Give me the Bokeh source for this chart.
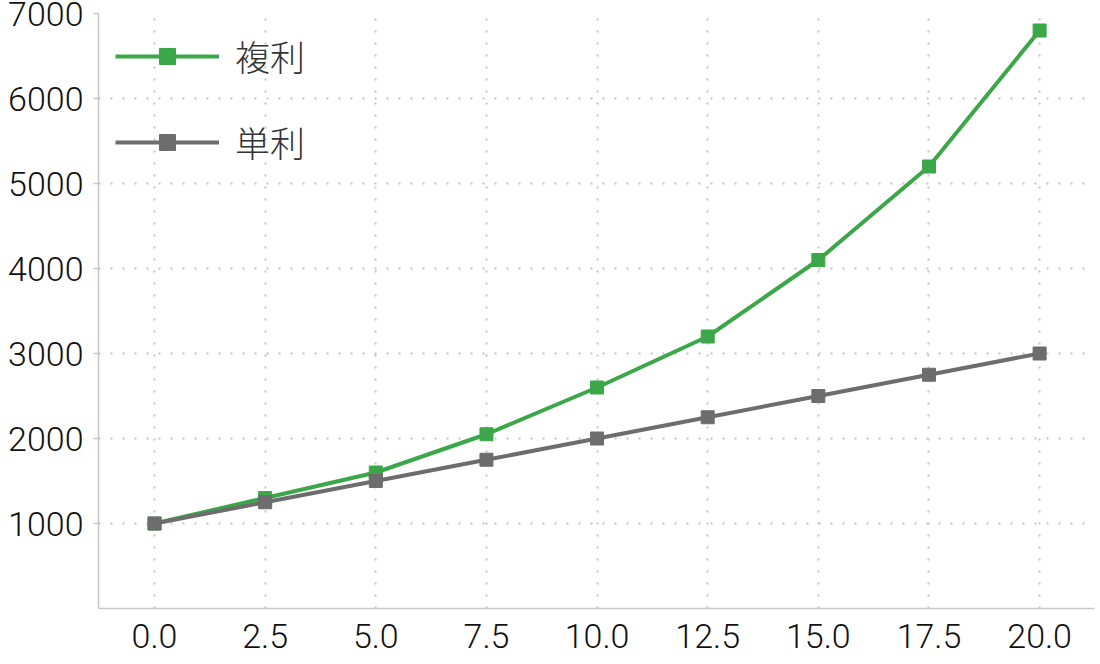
from bokeh.plotting import figure
from bokeh.models import FixedTicker, PrintfTickFormatter, Range1d
from bokeh.embed import file_html
from bokeh.resources import INLINE

years = [0, 2.5, 5, 7.5, 10, 12.5, 15, 17.5, 20]
compound = [1000, 1300, 1600, 2050, 2600, 3200, 4100, 5200, 6800]
simple = [1000, 1250, 1500, 1750, 2000, 2250, 2500, 2750, 3000]
labels = ["複利", "単利"]
x_ticks = [0, 2.5, 5, 7.5, 10, 12.5, 15, 17.5, 20]
y_ticks = [1000, 2000, 3000, 4000, 5000, 6000, 7000]

GREEN = "#3ba748"
GREY = "#6d6d6d"
TICK_FONT = "Roboto Light"

p = figure(width=1096, height=664, output_backend="svg", toolbar_location=None,
           x_range=Range1d(-1.266, 21.24), y_range=Range1d(0, 7000),
           min_border_left=98, min_border_right=2, min_border_top=13, min_border_bottom=56)
p.outline_line_color = None
p.background_fill_color = "white"

p.line(years, compound, line_color=GREEN, line_width=4, legend_label=labels[0])
p.scatter(years, compound, marker="square", size=13, fill_color=GREEN, line_color=GREEN, legend_label=labels[0])
p.line(years, simple, line_color=GREY, line_width=4, legend_label=labels[1])
p.scatter(years, simple, marker="square", size=13, fill_color=GREY, line_color=GREY, legend_label=labels[1])

p.xaxis.ticker = FixedTicker(ticks=x_ticks)
p.xaxis.formatter = PrintfTickFormatter(format="%.1f")
p.yaxis.ticker = FixedTicker(ticks=y_ticks)

for ax in (p.xaxis, p.yaxis):
    ax.axis_line_color = "#c8c8c8"
    ax.axis_line_width = 1.5
    ax.major_tick_line_color = "#c8c8c8"
    ax.major_tick_line_width = 1.5
    ax.minor_tick_line_color = None
    ax.major_label_text_font = TICK_FONT
    ax.major_label_text_font_size = "34px"
    ax.major_label_text_color = "#111111"

p.xaxis.major_tick_out = 0
p.xaxis.major_tick_in = 0
p.xaxis.major_label_standoff = 15
p.yaxis.major_tick_out = 5
p.yaxis.major_tick_in = 0
p.yaxis.major_label_standoff = 10

for g in (p.xgrid, p.ygrid):
    g.grid_line_color = "#c4c4c4"
    g.grid_line_width = 2
    g.grid_line_dash = "2 10"

leg = p.legend[0]
leg.location = "top_left"
leg.border_line_color = None
leg.background_fill_alpha = 0
leg.margin = 17
leg.padding = 9
leg.glyph_width = 104
leg.glyph_height = 40
leg.label_height = 40
leg.spacing = 35
leg.label_standoff = 16
leg.label_text_font = "Noto Sans CJK JP Light"
leg.label_text_font_size = "35px"
leg.label_text_color = "#333333"

open("out.html", "w").write(file_html(p, INLINE))
